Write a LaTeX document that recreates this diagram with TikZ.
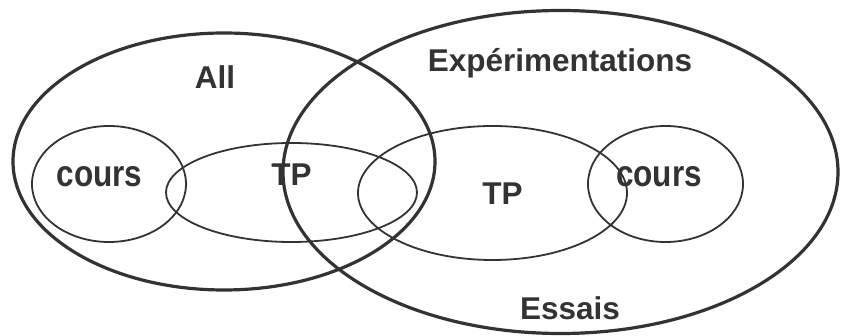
\documentclass[tikz,border=0pt]{standalone}
\usepackage{fontspec}
\setmainfont{Liberation Sans}
\usetikzlibrary{shapes.geometric}
\definecolor{ink}{HTML}{333335}
\tikzset{
  bigset/.style={draw=ink, ellipse, line width=3.2pt, inner sep=0pt},
  subset/.style={draw=ink, ellipse, line width=1.8pt, inner sep=0pt},
  lbl/.style={text=ink, anchor=base, inner sep=0pt, font=\fontsize{31.5}{36}\selectfont\bfseries}
}
\newcommand{\tallword}[1]{\scalebox{1}[1.18]{#1}}
\begin{document}
\begin{tikzpicture}[x=1pt,y=-1pt]
\useasboundingbox (0,0) rectangle (844,336);
% sets
\node[bigset, minimum width=422pt, minimum height=257pt] (all) at (224,161.5) {};
\node[bigset, minimum width=555pt, minimum height=323pt] (exp) at (560.5,172) {};
\node[subset, minimum width=154pt, minimum height=116pt] (coursA) at (109,184) {};
\node[subset, minimum width=251pt, minimum height=99pt] (tpA) at (291.5,192.5) {};
\node[subset, minimum width=269pt, minimum height=134pt] (tpB) at (492.5,193) {};
\node[subset, minimum width=155pt, minimum height=116pt] (coursB) at (665.5,184) {};
% labels
\node[lbl] (tAll) at (215,89) {All};
\node[lbl] (tExp) at (560,72) {Expérimentations};
\node[lbl] (tCoursA) at (99.5,187) {\tallword{cours}};
\node[lbl] (tTpA) at (291.5,186) {TP};
\node[lbl] (tTpB) at (502.5,205) {TP};
\node[lbl] (tCoursB) at (659,187) {\tallword{cours}};
\node[lbl] (tEssais) at (570,320) {Essais};
\end{tikzpicture}
\end{document}
